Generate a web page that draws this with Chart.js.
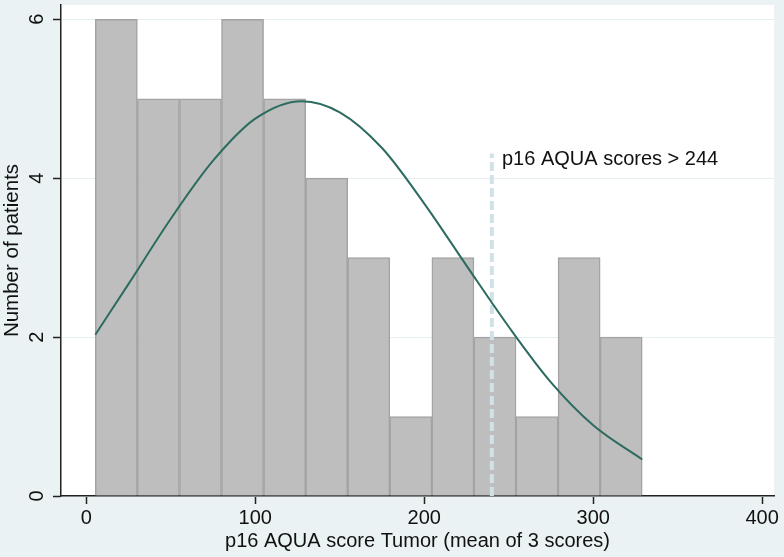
<!DOCTYPE html>
<html>
<head>
<meta charset="utf-8">
<script src="https://cdn.jsdelivr.net/npm/chart.js@4/dist/chart.umd.min.js"></script>
<style>
  html, body { margin: 0; padding: 0; background: rgb(234, 242, 243); }
  #wrap { width: 784px; height: 557px; }
</style>
</head>
<body>
<div id="wrap"><canvas id="histo"></canvas></div>
<script>
// histogram bins (centres) and counts
const binCenters = [17.75, 42.65, 67.55, 92.45, 117.35, 142.25, 167.15, 192.05, 216.95, 241.85, 266.75, 291.65, 316.55];
const counts = [6, 5, 5, 6, 5, 4, 3, 1, 3, 2, 1, 3, 2];

// normal density overlay
const curveX = [5.3, 25, 50, 75, 100, 127.5, 150, 175, 200, 225, 250, 275, 300, 329];
const curveY = [2.03, 2.67, 3.49, 4.22, 4.75, 4.97, 4.83, 4.38, 3.68, 2.9, 2.13, 1.43, 0.89, 0.46];

// cut-off marker
const cutX = [240, 240];
const cutY = [0, 4.31];
const cutLabel = 'p16 AQUA scores > 244';
const cutLabelX = 246;
const cutLabelY = 4.23;

const xTicks = [0, 100, 200, 300, 400];
const yTicks = [0, 2, 4, 6];

const FONT = '"Liberation Sans", Arial, sans-serif';
const bgColor = 'rgb(234, 242, 243)';

const background = {
    id: 'background',
    beforeDraw(chart) {
        const ctx = chart.ctx;
        const a = chart.chartArea;
        ctx.save();
        ctx.fillStyle = bgColor;
        ctx.fillRect(0, 0, chart.width, chart.height);
        ctx.fillStyle = '#ffffff';
        ctx.fillRect(a.left, a.top, a.right - a.left, a.bottom - a.top);
        ctx.restore();
    }
};

// vertical y tick labels + text note
const extras = {
    id: 'extras',
    afterDraw(chart) {
        const ctx = chart.ctx;
        const x = chart.scales.x;
        const y = chart.scales.y;
        ctx.save();
        ctx.font = '20px ' + FONT;
        ctx.fillStyle = '#111';
        ctx.textAlign = 'center';
        ctx.textBaseline = 'middle';
        yTicks.forEach(v => {
            ctx.save();
            ctx.translate(37, y.getPixelForValue(v));
            ctx.rotate(-Math.PI / 2);
            ctx.fillText(String(v), 0, 0);
            ctx.restore();
        });
        ctx.textAlign = 'left';
        ctx.fillText(cutLabel, x.getPixelForValue(cutLabelX), y.getPixelForValue(cutLabelY));
        ctx.restore();
    }
};

const dataHist = {
    datasets: [{
        type: 'bar',
        label: 'patients',
        data: binCenters.map((c, i) => ({ x: c, y: counts[i] })),
        backgroundColor: '#bebebe',
        borderColor: '#a3a3a3',
        borderWidth: 1.5,
        barPercentage: 1,
        categoryPercentage: 1,
        order: 3
    },
    {
        type: 'line',
        label: 'cut-off',
        data: cutX.map((v, i) => ({ x: v, y: cutY[i] })),
        borderColor: '#d0e2e8',
        borderWidth: 4,
        borderDash: [9, 4],
        pointRadius: 0,
        order: 2
    },
    {
        type: 'line',
        label: 'normal',
        data: curveX.map((v, i) => ({ x: v, y: curveY[i] })),
        borderColor: '#2c6b5f',
        borderWidth: 2,
        pointRadius: 0,
        cubicInterpolationMode: 'monotone',
        order: 1
    }]
};

const configHist = {
    type: 'bar',
    data: dataHist,
    options: {
        responsive: true,
        maintainAspectRatio: false,
        animation: false,
        layout: { padding: { top: 5, right: 10, left: 0, bottom: 0 } },
        plugins: {
            legend: { display: false },
            tooltip: { enabled: false }
        },
        scales: {
            x: {
                type: 'linear',
                min: -15,
                max: 407,
                offset: false,
                afterBuildTicks: s => { s.ticks = xTicks.map(v => ({ value: v })); },
                afterFit: s => { s.height = 61; },
                border: { display: true, color: '#222', width: 1.5 },
                grid: { offset: false, drawOnChartArea: false, drawTicks: true, tickLength: 8, tickColor: '#222', tickWidth: 1.5 },
                ticks: { color: '#111', font: { family: FONT, size: 20 }, padding: 2, maxRotation: 0 },
                title: {
                    display: true,
                    text: 'p16 AQUA score Tumor (mean of 3 scores)',
                    color: '#111',
                    font: { family: FONT, size: 20 },
                    padding: { top: 0, bottom: 4 }
                }
            },
            y: {
                min: 0,
                max: 6.18,
                afterBuildTicks: s => { s.ticks = yTicks.map(v => ({ value: v })); },
                afterFit: s => { s.width = 61; },
                border: { display: true, color: '#222', width: 1.5 },
                grid: { offset: false, color: '#e6eff1', lineWidth: 1, drawTicks: true, tickLength: 8, tickColor: '#222', tickWidth: 1.5 },
                ticks: { display: false },
                title: {
                    display: true,
                    text: 'Number of patients',
                    color: '#111',
                    font: { family: FONT, size: 20.5 },
                    padding: { top: 0, bottom: 0 }
                }
            }
        }
    },
    plugins: [background, extras]
};

const histChart = new Chart(document.getElementById('histo'), configHist);
</script>
</body>
</html>
